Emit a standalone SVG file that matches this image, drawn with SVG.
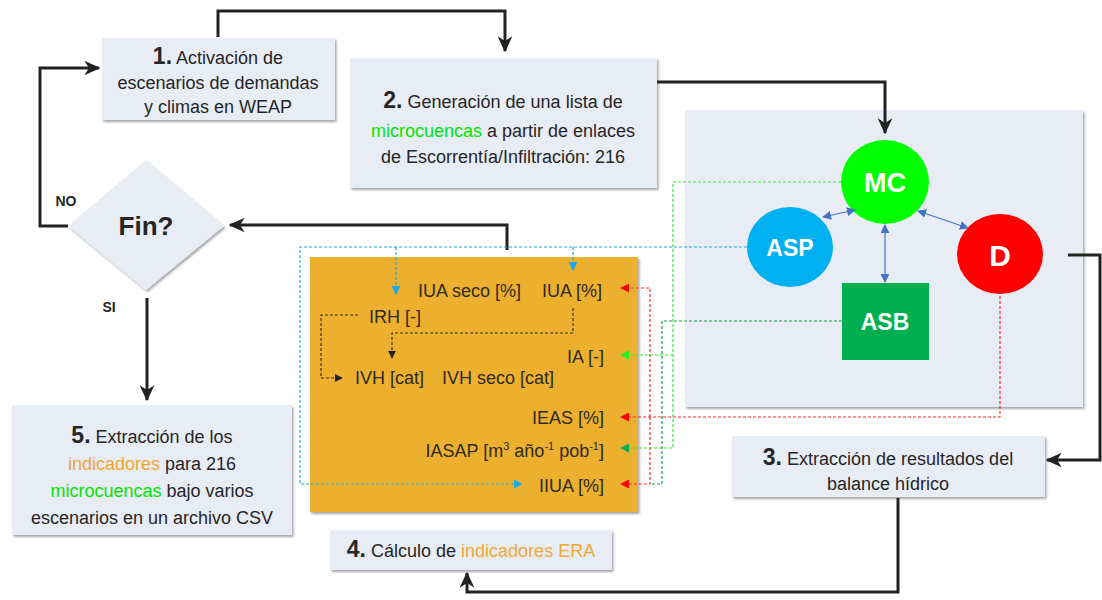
<svg xmlns="http://www.w3.org/2000/svg" width="1102" height="600" viewBox="0 0 1102 600">
  <defs>
    <filter id="shadow" x="-10%" y="-10%" width="125%" height="130%">
      <feDropShadow dx="1.5" dy="2" stdDeviation="1.2" flood-color="#000" flood-opacity="0.35"/>
    </filter>
    <marker id="ah" viewBox="0 0 12 12" refX="11" refY="6" markerWidth="16" markerHeight="16" markerUnits="userSpaceOnUse" orient="auto">
      <path d="M0,0.5 L12,6 L0,11.5 L3.5,6 z" fill="#222"/>
    </marker>
    <marker id="bl" viewBox="0 0 10 10" refX="9" refY="5" markerWidth="9" markerHeight="9" markerUnits="userSpaceOnUse" orient="auto-start-reverse">
      <path d="M0,0 L10,5 L0,10 z" fill="#4472c4"/>
    </marker>
    <marker id="cy" viewBox="0 0 10 10" refX="9" refY="5" markerWidth="9" markerHeight="9" markerUnits="userSpaceOnUse" orient="auto">
      <path d="M0,0 L10,5 L0,10 z" fill="#1ca9e6"/>
    </marker>
    <marker id="dk" viewBox="0 0 10 10" refX="9" refY="5" markerWidth="8" markerHeight="8" markerUnits="userSpaceOnUse" orient="auto">
      <path d="M0,0 L10,5 L0,10 z" fill="#222"/>
    </marker>
    <marker id="rd" viewBox="0 0 10 10" refX="9" refY="5" markerWidth="9" markerHeight="9" markerUnits="userSpaceOnUse" orient="auto">
      <path d="M0,0 L10,5 L0,10 z" fill="#ff0000"/>
    </marker>
    <marker id="lg" viewBox="0 0 10 10" refX="9" refY="5" markerWidth="9" markerHeight="9" markerUnits="userSpaceOnUse" orient="auto">
      <path d="M0,0 L10,5 L0,10 z" fill="#22ee22"/>
    </marker>
    <marker id="dg" viewBox="0 0 10 10" refX="9" refY="5" markerWidth="9" markerHeight="9" markerUnits="userSpaceOnUse" orient="auto">
      <path d="M0,0 L10,5 L0,10 z" fill="#00b050"/>
    </marker>
  </defs>
  <style>
    .box { fill: #e8ecf5; filter: url(#shadow); }
    .t { font-family: "Liberation Sans", Arial, sans-serif; font-size: 18px; fill: #262626; text-anchor: middle; }
    .num { font-weight: bold; font-size: 23px; }
    .g { fill: #00e600; }
    .o { fill: #f0a830; }
    .ind { font-family: "Liberation Sans", Arial, sans-serif; font-size: 18px; fill: #2e2a20; }
    .end { text-anchor: end; }
    .lbl { font-family: "Liberation Sans", Arial, sans-serif; font-weight: bold; fill: #fff; text-anchor: middle; }
    .flow { fill: none; stroke: #222; stroke-width: 3; marker-end: url(#ah); }
    .dash { fill: none; stroke-width: 1.2; stroke-dasharray: 3 2; }
    .link { fill: none; stroke: #4472c4; stroke-width: 1.2; marker-start: url(#bl); marker-end: url(#bl); }
  </style>

  <!-- model panel -->
  <g id="panel">
    <rect x="685" y="110" width="398" height="297" class="box"/>
  </g>

  <!-- step 1 -->
  <g id="step1">
    <rect x="102" y="38" width="233" height="82" class="box"/>
    <text class="t" x="218" y="64"><tspan class="num">1.</tspan> Activación de</text>
    <text class="t" x="218" y="89">escenarios de demandas</text>
    <text class="t" x="218" y="113">y climas en WEAP</text>
  </g>

  <!-- step 2 -->
  <g id="step2">
    <rect x="350" y="58" width="307" height="130" class="box"/>
    <text class="t" x="503" y="108"><tspan class="num">2.</tspan> Generación de una lista de</text>
    <text class="t" x="503" y="137"><tspan class="g">microcuencas</tspan> a partir de enlaces</text>
    <text class="t" x="503" y="163">de Escorrentía/Infiltración: 216</text>
  </g>

  <!-- decision -->
  <g id="fin">
    <polygon points="68,226 146,160 224,226 146,290" class="box"/>
    <text x="146" y="235" font-family="Liberation Sans, Arial, sans-serif" font-size="26" font-weight="bold" fill="#262626" text-anchor="middle">Fin?</text>
    <text x="66" y="206" font-family="Liberation Sans, Arial, sans-serif" font-size="14" font-weight="bold" fill="#262626" text-anchor="middle">NO</text>
    <text x="109" y="312" font-family="Liberation Sans, Arial, sans-serif" font-size="14" font-weight="bold" fill="#262626" text-anchor="middle">SI</text>
  </g>

  <!-- step 5 -->
  <g id="step5">
    <rect x="12" y="405" width="280" height="130" class="box"/>
    <text class="t" x="152" y="443"><tspan class="num">5.</tspan> Extracción de los</text>
    <text class="t" x="152" y="470"><tspan class="o">indicadores</tspan> para 216</text>
    <text class="t" x="152" y="497"><tspan class="g">microcuencas</tspan> bajo varios</text>
    <text class="t" x="152" y="524">escenarios en un archivo CSV</text>
  </g>

  <!-- step 3 -->
  <g id="step3">
    <rect x="732" y="436" width="313" height="61" class="box"/>
    <text class="t" x="888" y="465"><tspan class="num">3.</tspan> Extracción de resultados del</text>
    <text class="t" x="888" y="490">balance hídrico</text>
  </g>

  <!-- step 4 -->
  <g id="step4">
    <rect x="330" y="530" width="282" height="40" class="box"/>
    <text class="t" x="471" y="557"><tspan class="num">4.</tspan> Cálculo de <tspan class="o">indicadores ERA</tspan></text>
  </g>

  <!-- indicator block -->
  <g id="indicators">
    <rect x="310" y="257" width="328" height="255" fill="#edb02e" filter="url(#shadow)"/>
    <text class="ind" x="418" y="297">IUA seco [%]</text>
    <text class="ind" x="542" y="297">IUA [%]</text>
    <text class="ind" x="369" y="323">IRH [-]</text>
    <text class="ind end" x="604" y="363">IA [-]</text>
    <text class="ind" x="355" y="384">IVH [cat]</text>
    <text class="ind" x="442" y="384">IVH seco [cat]</text>
    <text class="ind end" x="604" y="424">IEAS [%]</text>
    <text class="ind end" x="604" y="457">IASAP [m<tspan font-size="11" dy="-7">3</tspan><tspan dy="7"> año</tspan><tspan font-size="11" dy="-7">-1</tspan><tspan dy="7"> pob</tspan><tspan font-size="11" dy="-7">-1</tspan><tspan dy="7">]</tspan></text>
    <text class="ind end" x="604" y="492">IIUA [%]</text>
  </g>

  <!-- water balance elements -->
  <g id="mc">
    <ellipse cx="885" cy="182" rx="44" ry="42" fill="#00ff00"/>
    <text class="lbl" x="885" y="192" font-size="27">MC</text>
  </g>
  <g id="asp">
    <ellipse cx="790" cy="247" rx="43" ry="40" fill="#00b0f0"/>
    <text class="lbl" x="790" y="256" font-size="23">ASP</text>
  </g>
  <g id="d">
    <ellipse cx="1000" cy="254" rx="43" ry="40" fill="#ff0000"/>
    <text class="lbl" x="1000" y="266" font-size="30">D</text>
  </g>
  <g id="asb">
    <rect x="842" y="283" width="87" height="77" fill="#00b050"/>
    <text class="lbl" x="885" y="330" font-size="23">ASB</text>
  </g>

  <!-- connectors -->
  <g id="connectors">
    <path class="flow" d="M218,37 V11 H505 V51"/>
    <path class="flow" d="M657,82 H885 V133"/>
    <path class="flow" d="M1068,255 H1100 V460 H1047"/>
    <path class="flow" d="M898,498 V592 H467 V573"/>
    <path class="flow" d="M507,250 V225 H230"/>
    <path class="flow" d="M68,226 H40 V68 H99"/>
    <path class="flow" d="M147,298 V400"/>

    <path class="link" d="M823,217 L855,210"/>
    <path class="link" d="M918,211 L968,228"/>
    <path class="link" d="M885,225 V282"/>

    <!-- ASP links -->
    <path class="dash" stroke="#1ca9e6" d="M747,247 H300 V484 H522" marker-end="url(#cy)"/>
    <path class="dash" stroke="#1ca9e6" d="M573,247 V270" marker-end="url(#cy)"/>
    <path class="dash" stroke="#1ca9e6" d="M396,247 V294" marker-end="url(#cy)"/>

    <!-- internal dependencies -->
    <path class="dash" stroke="#3a3020" d="M573,308 V333 H392 V358" marker-end="url(#dk)"/>
    <path class="dash" stroke="#3a3020" d="M358,315 H321 V378 H342" marker-end="url(#dk)"/>

    <!-- D links -->
    <path class="dash" stroke="#ff2a2a" d="M1000,296 V417 H621" marker-end="url(#rd)"/>
    <path class="dash" stroke="#ff2a2a" d="M650,417 V288 H621" marker-end="url(#rd)"/>
    <path class="dash" stroke="#ff2a2a" d="M650,417 V484 H621" marker-end="url(#rd)"/>

    <!-- MC links -->
    <path class="dash" stroke="#33ee33" d="M841,182 H673 V448 H621" marker-end="url(#dg)"/>
    <path class="dash" stroke="#33ee33" d="M673,355 H621" marker-end="url(#lg)"/>

    <!-- ASB link -->
    <path class="dash" stroke="#10a050" d="M842,321 H662 V484 H650"/>
  </g>
</svg>
